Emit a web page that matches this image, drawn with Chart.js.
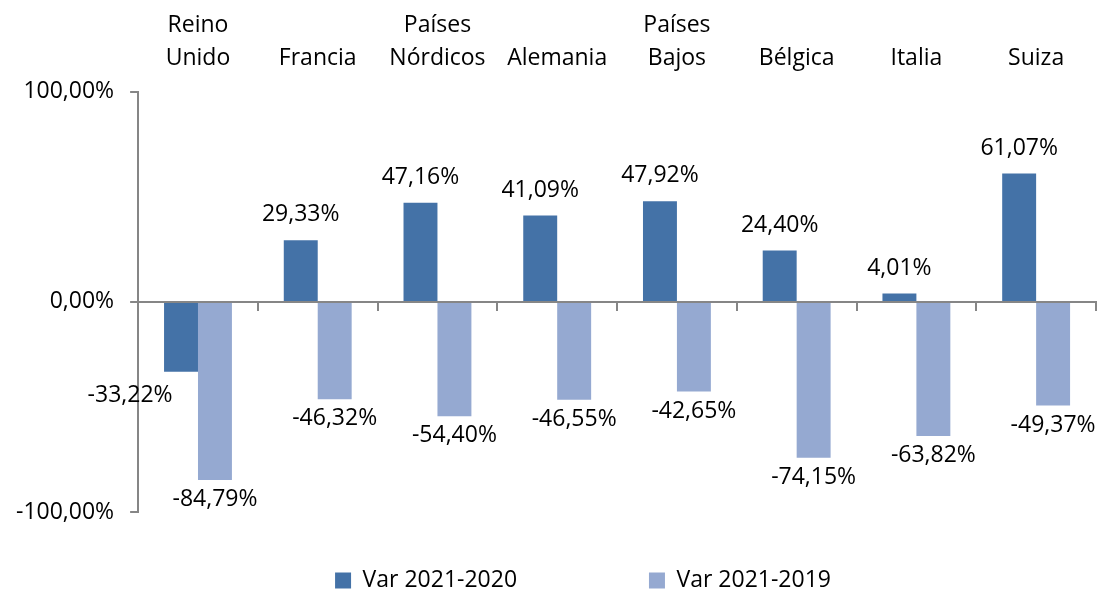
<!DOCTYPE html>
<html>
<head>
<meta charset="utf-8">
<script src="https://cdn.jsdelivr.net/npm/chart.js@4/dist/chart.umd.min.js"></script>
<style>
  html, body { margin: 0; padding: 0; background: #fff; }
  #wrap { width: 1108px; height: 590px; }
</style>
</head>
<body>
<div id="wrap"><canvas id="myChart" width="1108" height="590"></canvas></div>
<script>
const paises = [['Reino', 'Unido'], 'Francia', ['Países', 'Nórdicos'], 'Alemania', ['Países', 'Bajos'], 'Bélgica', 'Italia', 'Suiza'];
const var2021_2020 = [-33.22, 29.33, 47.16, 41.09, 47.92, 24.40, 4.01, 61.07];
const var2021_2019 = [-84.79, -46.32, -54.40, -46.55, -42.65, -74.15, -63.82, -49.37];
const yTicks = [-100, 0, 100];

const colorOscuro = '#4472A7';
const colorClaro = '#95A9D1';
const gris = '#868686';
const fuente = "'Open Sans', sans-serif";

function pct(v) {
    return v.toFixed(2).replace('.', ',') + '%';
}

// etiquetas de valor sobre/bajo cada barra
const etiquetas = {
    id: 'etiquetas',
    afterDatasetsDraw(chart) {
        const ctx = chart.ctx;
        ctx.save();
        ctx.font = '23px ' + fuente;
        ctx.fillStyle = '#000';
        ctx.textAlign = 'center';
        chart.data.datasets.forEach((ds, i) => {
            const meta = chart.getDatasetMeta(i);
            meta.data.forEach((bar, j) => {
                const v = ds.data[j];
                let x = bar.x;
                if (v >= 0) {
                    ctx.textBaseline = 'bottom';
                    ctx.fillText(pct(v), x, bar.y - 14);
                } else if (i === 0) {
                    // la etiqueta oscura negativa se aparta a la izquierda
                    ctx.textBaseline = 'top';
                    ctx.fillText(pct(v), x - bar.width * 1.5, bar.y + 12);
                } else {
                    ctx.textBaseline = 'top';
                    ctx.fillText(pct(v), x, bar.y + 8);
                }
            });
        });
        ctx.restore();
    }
};

// coloca la leyenda como en el original
const moverLeyenda = {
    id: 'moverLeyenda',
    afterLayout(chart) {
        const lg = chart.legend;
        lg.left += 35;
        lg.right += 35;
        lg.top += 12;
        lg.bottom += 12;
    }
};

const ctx = document.getElementById('myChart').getContext('2d');
const myChart = new Chart(ctx, {
    type: 'bar',
    data: {
        labels: paises,
        datasets: [{
            label: 'Var 2021-2020',
            data: var2021_2020,
            backgroundColor: colorOscuro,
            xAxisID: 'x'
        }, {
            label: 'Var 2021-2019',
            data: var2021_2019,
            backgroundColor: colorClaro,
            xAxisID: 'x'
        }]
    },
    options: {
        responsive: false,
        animation: false,
        layout: { padding: { top: 0, right: 12, left: 0, bottom: 0 } },
        datasets: {
            bar: { barPercentage: 1, categoryPercentage: 0.567 }
        },
        plugins: {
            legend: {
                position: 'bottom',
                labels: {
                    color: '#000',
                    font: { family: fuente, size: 23 },
                    boxWidth: 16,
                    boxHeight: 16,
                    padding: 45,
                    generateLabels(chart) {
                        const items = Chart.defaults.plugins.legend.labels.generateLabels(chart);
                        items[0].text += '\u2003\u2003\u2003   ';
                        return items;
                    }
                }
            },
            tooltip: { enabled: false }
        },
        scales: {
            x: {
                type: 'category',
                position: 'top',
                grid: { display: false },
                border: { display: false },
                ticks: {
                    color: '#000',
                    font: { family: fuente, size: 23, lineHeight: 1.43 },
                    maxRotation: 0,
                    autoSkip: false,
                    padding: 9
                }
            },
            eje0: {
                type: 'category',
                axis: 'x',
                position: { y: 0 },
                grid: {
                    offset: true,
                    drawOnChartArea: false,
                    drawTicks: true,
                    tickLength: 8,
                    color: gris,
                    lineWidth: 2
                },
                border: { display: true, color: gris, width: 2 },
                ticks: { display: false }
            },
            y: {
                min: -100,
                max: 100,
                afterBuildTicks(scale) {
                    scale.ticks = yTicks.map(v => ({ value: v }));
                },
                grid: {
                    drawOnChartArea: false,
                    drawTicks: true,
                    tickLength: 8,
                    color: gris,
                    lineWidth: 2
                },
                border: { display: true, color: gris, width: 2 },
                ticks: {
                    color: '#000',
                    font: { family: fuente, size: 23 },
                    padding: 16,
                    callback: v => pct(v)
                }
            }
        }
    },
    plugins: [etiquetas, moverLeyenda]
});
</script>
</body>
</html>
